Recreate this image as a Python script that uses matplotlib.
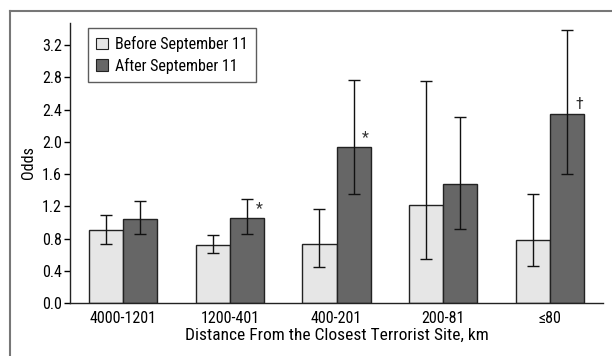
import matplotlib
matplotlib.use("Agg")
import matplotlib.pyplot as plt
from matplotlib.lines import Line2D
from matplotlib.patches import Patch
import numpy as np

plt.rcParams['font.family'] = ['Roboto Condensed', 'Archivo Narrow', 'Liberation Sans Narrow', 'Liberation Sans', 'DejaVu Sans']

categories = ["4000-1201", "1200-401", "400-201", "200-81", "\u226480"]
before = [0.90, 0.72, 0.73, 1.22, 0.78]
before_lo = [0.73, 0.62, 0.45, 0.54, 0.46]
before_hi = [1.09, 0.84, 1.17, 2.75, 1.35]
after = [1.04, 1.05, 1.93, 1.47, 2.34]
after_lo = [0.86, 0.86, 1.35, 0.92, 1.60]
after_hi = [1.26, 1.29, 2.77, 2.31, 3.38]
marks = ["", "*", "*", "", "\u2020"]
yticks = [0.0, 0.4, 0.8, 1.2, 1.6, 2.0, 2.4, 2.8, 3.2]

FS = 11.5

fig = plt.figure(figsize=(6.12, 3.56), dpi=100)
ax = fig.add_axes([70/612, 1-303/356, (603-70)/612, (303-23)/356])

x = np.arange(len(categories))
w = 0.32
b = np.array(before); a = np.array(after)
ax.bar(x - w/2, b, w, color="#e6e6e6", edgecolor="#222222", linewidth=1.0, zorder=2)
ax.bar(x + w/2, a, w, color="#666666", edgecolor="#222222", linewidth=1.0, zorder=2)
ax.errorbar(x - w/2, b, yerr=[b - np.array(before_lo), np.array(before_hi) - b],
            fmt='none', ecolor="#111111", elinewidth=1.0, capsize=4.5, capthick=1.0, zorder=3)
ax.errorbar(x + w/2, a, yerr=[a - np.array(after_lo), np.array(after_hi) - a],
            fmt='none', ecolor="#111111", elinewidth=1.0, capsize=4.5, capthick=1.0, zorder=3)

for xi, m, v in zip(x, marks, after):
    if m:
        ax.text(xi + w/2 + 0.08, v + 0.03, m, ha='left', va='bottom', fontsize=FS, color="#333333")

ax.set_xlim(-0.5, 4.5)
ax.set_ylim(0, 3.473)
ax.set_yticks(yticks)
ax.set_yticklabels([f"{t:.1f}" for t in yticks], fontsize=FS)
ax.set_xticks(x)
ax.set_xticklabels(categories, fontsize=FS)
ax.tick_params(axis='x', length=0, pad=6)
ax.tick_params(axis='y', length=4, width=1, direction='out', pad=2)
for s in ['top', 'right']:
    ax.spines[s].set_visible(False)
for s in ['left', 'bottom']:
    ax.spines[s].set_color("#222222")
    ax.spines[s].set_linewidth(1.0)
ax.set_ylabel("Odds", fontsize=FS, labelpad=4)
ax.set_xlabel("Distance From the Closest Terrorist Site, km", fontsize=12.5, labelpad=1)

handles = [Patch(facecolor="#e6e6e6", edgecolor="#222222", linewidth=0.8),
           Patch(facecolor="#666666", edgecolor="#222222", linewidth=0.8)]
leg = ax.legend(handles, ["Before September 11", "After September 11"],
                loc='upper left', bbox_to_anchor=(18/533, 1-5/280), fontsize=FS,
                frameon=True, fancybox=False, edgecolor="#333333",
                handlelength=0.75, handleheight=0.75, handletextpad=0.45,
                borderpad=0.5, labelspacing=0.35, borderaxespad=0)
leg.get_frame().set_linewidth(1.0)

fig.add_artist(Line2D([10/612, 1], [1-11/356, 1-11/356], color="#777777", linewidth=1.5))
fig.add_artist(Line2D([10/612, 10/612], [0, 1-11/356], color="#777777", linewidth=1.5))

fig.savefig("out.png", dpi=100)
